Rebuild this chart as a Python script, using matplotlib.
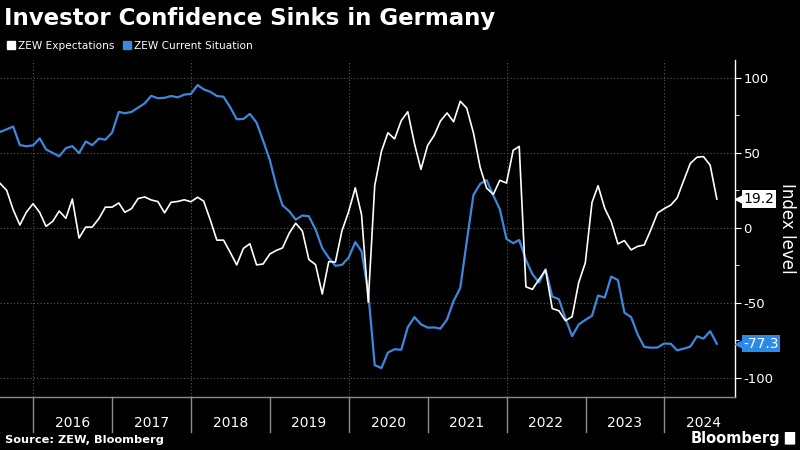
import numpy as np
import pandas as pd
import matplotlib
matplotlib.use("Agg")
import matplotlib.pyplot as plt
import matplotlib.transforms as mtransforms
from matplotlib.lines import Line2D
from matplotlib.patches import FancyBboxPatch

# Monatswerte Jul 2015 - Aug 2024 (ZEW Deutschland)
START = "2015-07-31"

expectations = [
    29.7, 25.0, 12.1, 1.9, 10.4, 16.1,                                      # 2015
    10.2, 1.0, 4.3, 11.2, 6.4, 19.2, -6.8, 0.5, 0.5, 6.2, 13.8, 13.8,       # 2016
    16.6, 10.4, 12.8, 19.5, 20.6, 18.6, 17.5, 10.0, 17.0, 17.6, 18.7, 17.4, # 2017
    20.4, 17.8, 5.1, -8.2, -8.2, -16.1, -24.7, -13.7, -10.6, -24.7, -24.1, -17.5,  # 2018
    -15.0, -13.4, -3.6, 3.1, -2.1, -21.1, -24.5, -44.1, -22.5, -22.8, -2.1, 10.7,  # 2019
    26.7, 8.7, -49.5, 28.2, 51.0, 63.4, 59.3, 71.5, 77.4, 56.1, 39.0, 55.0,  # 2020
    61.8, 71.2, 76.6, 70.7, 84.4, 79.8, 63.3, 40.4, 26.5, 22.3, 31.7, 29.9,  # 2021
    51.7, 54.3, -39.3, -41.0, -34.3, -28.0, -53.8, -55.3, -61.9, -59.2, -36.7, -23.3,  # 2022
    16.9, 28.1, 13.0, 4.1, -10.7, -8.5, -14.7, -12.3, -11.4, -1.1, 9.8, 12.8,  # 2023
    15.2, 19.9, 31.7, 42.9, 47.1, 47.5, 41.8, 19.2,                         # 2024
]

current = [
    63.9, 65.7, 67.5, 55.2, 54.4, 55.0,                                     # 2015
    59.7, 52.3, 50.0, 47.7, 53.1, 54.5, 49.8, 57.6, 55.1, 59.5, 58.8, 63.5,  # 2016
    77.3, 76.4, 77.3, 80.1, 83.0, 88.0, 86.4, 86.7, 87.9, 87.0, 88.8, 89.3,  # 2017
    95.2, 92.3, 90.7, 87.9, 87.4, 80.6, 72.4, 72.6, 76.0, 70.1, 58.2, 45.3,  # 2018
    27.6, 15.0, 11.1, 5.5, 8.2, 7.8, -1.1, -13.5, -19.9, -25.3, -24.7, -19.9,  # 2019
    -9.5, -15.7, -43.1, -91.5, -93.5, -83.1, -80.9, -81.3, -66.2, -59.5, -64.3, -66.5,  # 2020
    -66.4, -67.2, -61.0, -48.8, -40.1, -9.1, 21.9, 29.3, 31.9, 21.6, 12.5, -7.4,  # 2021
    -10.2, -8.1, -21.4, -30.8, -36.5, -27.6, -45.8, -47.6, -60.5, -72.2, -64.5, -61.4,  # 2022
    -58.6, -45.1, -46.5, -32.5, -34.8, -56.5, -59.5, -71.3, -79.4, -79.9, -79.8, -77.1,  # 2023
    -77.3, -81.7, -80.5, -79.2, -72.3, -73.8, -68.9, -77.3,                 # 2024
]

years = list(range(2016, 2025))
y_ticks = [100, 50, 0, -50, -100]

WHITE = "#ffffff"
BLUE = "#3d87dc"
TAG_BLUE = "#2b8ae8"
GRID = "#5a5a5a"
AXIS_GRAY = "#8c8c8c"

dates = pd.date_range(START, periods=len(expectations), freq="ME")

fig = plt.figure(figsize=(8, 4.5), dpi=100, facecolor="black")
ax = fig.add_axes([0.0, 0.118, 0.919, 0.749], facecolor="black")

ax.plot(dates, expectations, color=WHITE, lw=1.2, zorder=3)
ax.plot(dates, current, color=BLUE, lw=1.6, zorder=2)

ax.set_xlim(pd.Timestamp("2015-07-31"), pd.Timestamp("2024-11-24"))
ax.set_ylim(-112.7, 112)

# Achsen
for side in ["left", "top"]:
    ax.spines[side].set_visible(False)
ax.spines["right"].set_color(WHITE)
ax.spines["right"].set_linewidth(1.0)
ax.spines["bottom"].set_color(AXIS_GRAY)
ax.spines["bottom"].set_linewidth(1.0)

ax.yaxis.tick_right()
ax.set_yticks(y_ticks)
ax.set_yticks([75, 25, -25, -75], minor=True)
ax.tick_params(axis="y", which="major", colors=WHITE, labelsize=9.5, length=4, pad=2)
ax.tick_params(axis="y", which="minor", colors=WHITE, length=3)
ax.set_yticklabels([str(v) for v in y_ticks])
ax.yaxis.set_label_position("right")
ax.set_ylabel("Index level", color=WHITE, fontsize=12, rotation=270, labelpad=16)

ax.set_xticks([])
ax.tick_params(axis="x", which="both", length=0, labelbottom=False)

# Gitter
for v in y_ticks:
    ax.axhline(v, color=GRID, lw=0.8, ls=(0, (1, 2)), zorder=1)
for yr in years[::2]:
    ax.axvline(pd.Timestamp(f"{yr}-01-01"), color=GRID, lw=0.8, ls=(0, (1, 2)), zorder=1)

# Jahre unten
trans = mtransforms.blended_transform_factory(ax.transData, ax.transAxes)
for yr in years:
    ax.axvline(pd.Timestamp(f"{yr}-01-01"), ymin=-0.105, ymax=0, color=AXIS_GRAY,
               lw=1.0, clip_on=False)
    ax.text(pd.Timestamp(f"{yr}-07-01"), -0.078, str(yr), transform=trans,
            ha="center", va="center", color=WHITE, fontsize=10)

# Endwerte als Tags
ytrans = mtransforms.blended_transform_factory(ax.transAxes, ax.transData)
for val, fc, tc in [(expectations[-1], WHITE, "black"), (current[-1], TAG_BLUE, WHITE)]:
    ax.text(1.011, val, f"{val:.1f}", transform=ytrans, ha="left", va="center",
            color=tc, fontsize=10, clip_on=False, zorder=6,
            bbox=dict(boxstyle="square,pad=0.12", fc=fc, ec="none"))
    ax.plot([1.0065], [val], marker="<", ms=7, color=fc, transform=ytrans,
            clip_on=False, zorder=5)

# Titel, Legende, Quelle
fig.text(0.005, 0.958, "Investor Confidence Sinks in Germany", color=WHITE,
         fontsize=16.5, fontweight="bold", ha="left", va="center")

handles = [
    Line2D([], [], marker="s", ls="none", color=WHITE, ms=5.5, label="ZEW Expectations"),
    Line2D([], [], marker="s", ls="none", color=BLUE, ms=5.5, label="ZEW Current Situation"),
]
fig.legend(handles=handles, loc="center left", bbox_to_anchor=(-0.004, 0.898),
           ncol=2, frameon=False, fontsize=7.6, labelcolor=WHITE,
           handletextpad=0.3, columnspacing=0.8, handlelength=0.8)

fig.text(0.006, 0.022, "Source: ZEW, Bloomberg", color=WHITE, fontsize=8.2,
         fontweight="bold", ha="left", va="center")
fig.text(0.975, 0.026, "Bloomberg", color=WHITE, fontsize=10.5,
         fontweight="bold", ha="right", va="center")
fig.patches.append(FancyBboxPatch((0.982, 0.013), 0.011, 0.026,
                                  boxstyle="round,pad=0.001", fc=WHITE, ec="none",
                                  transform=fig.transFigure, figure=fig))

fig.savefig("out.png", dpi=100, facecolor="black")
